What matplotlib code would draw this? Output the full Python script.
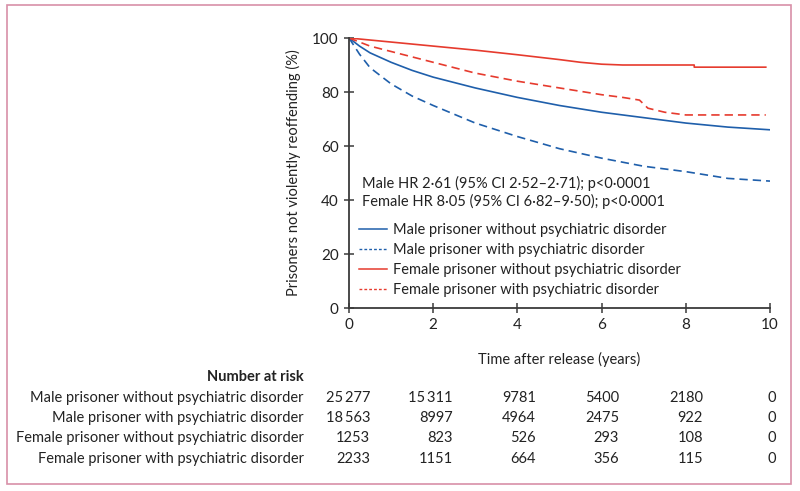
import matplotlib
matplotlib.use("Agg")
import matplotlib.pyplot as plt
from matplotlib.patches import Rectangle
from matplotlib.lines import Line2D

plt.rcParams["font.family"] = ["Lato", "DejaVu Sans"]

# survival curves, years vs % not reoffending
years_male_wo = [0, 0.25, 0.5, 1, 1.5, 2, 3, 4, 5, 6, 7, 8, 9, 9.5, 10]
male_wo = [100, 97, 94.5, 91, 88, 85.5, 81.5, 78, 75, 72.5, 70.5, 68.5, 67, 66.5, 66]

years_male_w = [0, 0.25, 0.5, 1, 1.5, 2, 3, 4, 5, 6, 7, 8, 9, 10]
male_w = [100, 94, 89, 83, 78.5, 75, 68.5, 63.5, 59, 55.5, 52.5, 50.5, 48, 47]

years_fem_wo = [0, 1, 2, 3, 4, 5, 5.5, 6, 6.5, 8.2, 8.2, 9.9]
fem_wo = [100, 98.5, 97, 95.5, 93.8, 92, 91, 90.3, 90, 90, 89.2, 89.2]

years_fem_w = [0, 0.5, 1, 2, 3, 4, 5, 6, 6.5, 6.9, 7.1, 7.5, 8, 9.9]
fem_w = [100, 97, 95, 91, 87, 84, 81.5, 79, 78, 77, 74, 72.5, 71.5, 71.5]

group_labels = [
    "Male prisoner without psychiatric disorder",
    "Male prisoner with psychiatric disorder",
    "Female prisoner without psychiatric disorder",
    "Female prisoner with psychiatric disorder",
]
risk_times = [0, 2, 4, 6, 8, 10]
risk_male_wo = ["25\u2009277", "15\u2009311", "9781", "5400", "2180", "0"]
risk_male_w = ["18\u2009563", "8997", "4964", "2475", "922", "0"]
risk_fem_wo = ["1253", "823", "526", "293", "108", "0"]
risk_fem_w = ["2233", "1151", "664", "356", "115", "0"]

BLUE = "#1f5fab"
RED = "#e63b2e"
DASH = (0, (5, 3))
FS = 10.5

fig = plt.figure(figsize=(8, 4.91), dpi=100)
ax = fig.add_axes([349 / 800, 1 - 308 / 491, 421 / 800, 270 / 491])

ax.plot(years_male_wo, male_wo, color=BLUE, lw=1.2)
ax.plot(years_male_w, male_w, color=BLUE, lw=1.2, linestyle=DASH)
ax.plot(years_fem_wo, fem_wo, color=RED, lw=1.2)
ax.plot(years_fem_w, fem_w, color=RED, lw=1.2, linestyle=DASH)

ax.set_xlim(0, 10)
ax.set_ylim(0, 100)
ax.set_xticks(risk_times)
ax.set_yticks([0, 20, 40, 60, 80, 100])
for s in ["top", "right"]:
    ax.spines[s].set_visible(False)
for s in ["left", "bottom"]:
    ax.spines[s].set_color("#3a3a3a")
    ax.spines[s].set_linewidth(1.3)
ax.tick_params(direction="inout", length=7, width=1.1, color="#3a3a3a",
               labelsize=FS + 0.5, labelcolor="#222222", pad=4)
ax.set_ylabel("Prisoners not violently reoffending (%)", fontsize=FS, color="#222222", labelpad=8)
ax.set_xlabel("Time after release (years)", fontsize=FS, color="#222222", labelpad=14)

ax.text(0.3, 46.2, "Male HR 2\u00b761 (95% CI 2\u00b752\u20132\u00b771); p<0\u00b70001",
        fontsize=FS, color="#222222", va="center")
ax.text(0.3, 39.6, "Female HR 8\u00b705 (95% CI 6\u00b782\u20139\u00b750); p<0\u00b70001",
        fontsize=FS, color="#222222", va="center")

handles = [
    Line2D([], [], color=BLUE, lw=1.1),
    Line2D([], [], color=BLUE, lw=1.0, linestyle=(0, (2, 1.5))),
    Line2D([], [], color=RED, lw=1.1),
    Line2D([], [], color=RED, lw=1.0, linestyle=(0, (2, 1.5))),
]
ax.legend(handles, group_labels, loc="upper left", bbox_to_anchor=(0.0, 0.352),
          frameon=False, fontsize=FS, handlelength=1.9, handletextpad=0.45,
          labelspacing=0.4, borderaxespad=0.3, labelcolor="#222222")

# number at risk table
fig.text(304 / 800, 1 - 377 / 491, "Number at risk", ha="right", va="center",
         fontsize=FS, fontweight="bold", color="#222222")
row_y = [398, 418, 438, 459]
rows = [risk_male_wo, risk_male_w, risk_fem_wo, risk_fem_w]
col_right = [370, 453, 536, 619, 703, 776]
for lab, y, vals in zip(group_labels, row_y, rows):
    fig.text(304 / 800, 1 - y / 491, lab, ha="right", va="center", fontsize=FS, color="#222222")
    for xr, v in zip(col_right, vals):
        fig.text(xr / 800, 1 - y / 491, v, ha="right", va="center", fontsize=FS, color="#222222")

fig.patches.append(Rectangle((7 / 800, 1 - 484 / 491), 784 / 800, 479 / 491,
                             transform=fig.transFigure, fill=False,
                             edgecolor="#d890a8", lw=1.2))

fig.savefig("out.png", dpi=100)
